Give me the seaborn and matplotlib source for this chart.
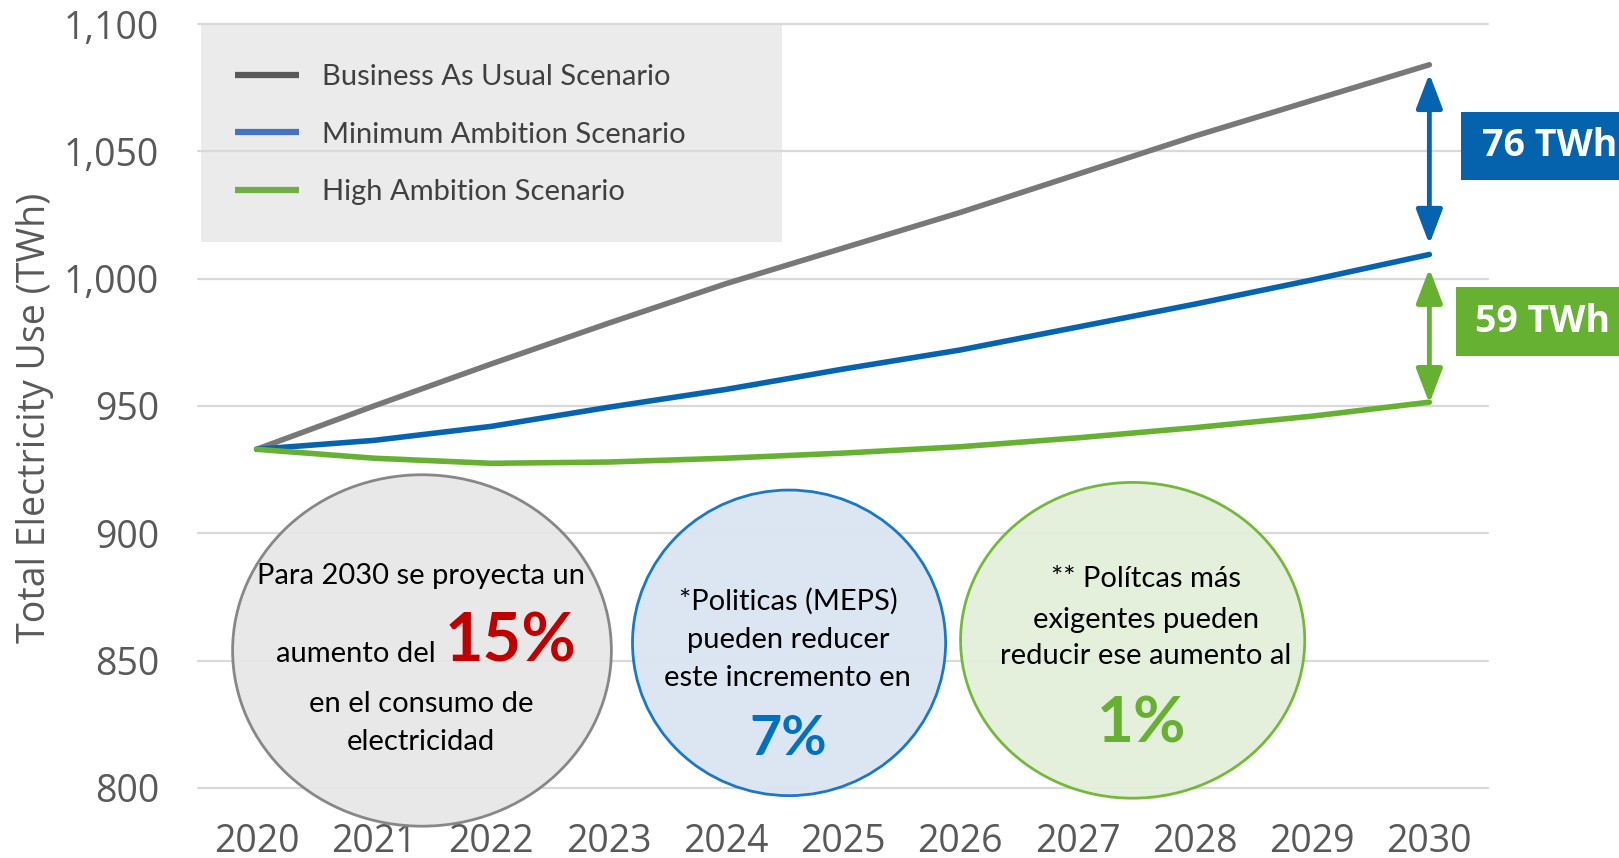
import pandas as pd
import seaborn as sns
import matplotlib.pyplot as plt
from matplotlib.patches import Ellipse, Rectangle
from matplotlib.lines import Line2D

# values
years = [2020, 2021, 2022, 2023, 2024, 2025, 2026, 2027, 2028, 2029, 2030]
bau = [933, 950, 966.5, 982.5, 998, 1012, 1026, 1041, 1056, 1070, 1084]
min_amb = [933, 936.5, 942, 949.5, 956.5, 964.5, 972, 981, 990, 999.5, 1009.5]
high_amb = [933, 929.5, 927.5, 928, 929.5, 931.5, 934, 937.5, 941.5, 946, 951.5]

scenarios = ['Business As Usual Scenario', 'Minimum Ambition Scenario', 'High Ambition Scenario']
line_colors = ['#787878', '#0563b0', '#66b032']
legend_colors = ['#595959', '#4472c4', '#70ad47']
yticks = [800, 850, 900, 950, 1000, 1050, 1100]

gap_labels = ['76 TWh', '59 TWh']

df = pd.DataFrame({
    'year': years * 3,
    'twh': bau + min_amb + high_amb,
    'scenario': [s for s in scenarios for _ in years],
})

sns.set_theme(style='white')
plt.rcParams['font.family'] = ['Open Sans', 'DejaVu Sans']

W, H = 1619, 858
fig = plt.figure(figsize=(W / 100, H / 100), dpi=100)
ax = fig.add_axes([198 / W, 1 - 788 / H, 1290 / W, 764 / H])

sns.lineplot(data=df, x='year', y='twh', hue='scenario', hue_order=scenarios,
             palette=dict(zip(scenarios, line_colors)), lw=4, legend=False,
             ax=ax, zorder=3, solid_capstyle='round')

ax.set_xlim(2019.5, 2030.5)
ax.set_ylim(800, 1100)
ax.set_xticks(years)
ax.set_yticks(yticks)
ax.set_yticklabels([f'{v:,}' for v in yticks])
ax.set_xlabel('')
ax.set_ylabel('Total Electricity Use (TWh)', fontsize=27, color='#595959')
ax.yaxis.set_label_coords(-0.112, 0.484)
ax.grid(axis='y', color='#d9d9d9', lw=1.6)
ax.grid(axis='x', visible=False)
ax.set_axisbelow(True)
for gl in ax.yaxis.get_gridlines():
    gl.set_clip_on(False)
sns.despine(ax=ax, left=True, bottom=True)
ax.tick_params(axis='both', length=0, labelsize=27, labelcolor='#595959')
ax.tick_params(axis='y', pad=28)
ax.tick_params(axis='x', pad=25)

# legend panel
ax.add_patch(Rectangle((0.002, 0.715), 0.451, 0.286, transform=ax.transAxes,
                       facecolor='#ebebeb', edgecolor='none', zorder=0.2, clip_on=False))
handles = [Line2D([], [], color=c, lw=4.5, solid_capstyle='butt') for c in legend_colors]
leg = ax.legend(handles, scenarios, loc='upper left', bbox_to_anchor=(0.029, 0.947),
                frameon=False, fontsize=21, handlelength=2.19, handletextpad=0.78,
                labelspacing=1.07, borderpad=0, borderaxespad=0, labelcolor='#404040')
for t in leg.get_texts():
    t.set_fontfamily(['Lato', 'DejaVu Sans'])

# bubbles
cal = ['Lato', 'DejaVu Sans']
ax.add_patch(Ellipse((2021.41, 854), 3.23, 138, facecolor='#e7e7e7', edgecolor='#7f7f7f',
                     lw=2, alpha=0.93, zorder=4, clip_on=False))
ax.add_patch(Ellipse((2024.54, 857), 2.67, 120, facecolor='#dae5f1', edgecolor='#0a6fc2',
                     lw=2, alpha=0.93, zorder=4, clip_on=False))
ax.add_patch(Ellipse((2027.47, 858), 2.935, 124, facecolor='#e2efd9', edgecolor='#6ab42d',
                     lw=2, alpha=0.93, zorder=4, clip_on=False))

tk = dict(ha='center', va='center', fontsize=21, color='black', family=cal, zorder=5)
ax.text(2021.40, 883.2, 'Para 2030 se proyecta un', **tk)
ax.text(2021.53, 849.5, 'aumento del', ha='right', va='baseline', fontsize=21,
        color='black', family=cal, zorder=5)
ax.text(2021.60, 849.5, '15%', ha='left', va='baseline', fontsize=48, fontweight='bold',
        color='#c00000', family=cal, zorder=5)
ax.text(2021.40, 833, 'en el consumo de', **tk)
ax.text(2021.40, 818.2, 'electricidad', **tk)

ax.text(2024.53, 873.5, '*Politicas (MEPS)', **tk)
ax.text(2024.53, 858, 'pueden reducer', **tk)
ax.text(2024.53, 843, 'este incremento en', **tk)
ax.text(2024.53, 819.2, '7%', ha='center', va='center', fontsize=40, fontweight='bold',
        color='#0070c0', family=cal, zorder=5)

ax.text(2027.58, 881.9, '** Polítcas más', **tk)
ax.text(2027.58, 866, 'exigentes pueden', **tk)
ax.text(2027.58, 851.9, 'reducir ese aumento al', **tk)
ax.text(2027.55, 825.2, '1%', ha='center', va='center', fontsize=46, fontweight='bold',
        color='#66b032', family=cal, zorder=5)

# gap arrows
for y0, y1, c in [(1013.5, 1080.5, '#0563b0'), (951, 1004, '#66b032')]:
    ax.annotate('', xy=(2030, y1), xytext=(2030, y0), annotation_clip=False,
                arrowprops=dict(arrowstyle='<|-|>,head_length=2.1,head_width=0.8',
                                mutation_scale=10, color=c, lw=3.5,
                                shrinkA=0, shrinkB=0))

# gap labels
for (x0, ytop, ybot, tx), lab, c in zip([(1461, 111.5, 180, 1482), (1456, 287, 356, 1475)],
                                        gap_labels, ['#0563ae', '#66b032']):
    fig.add_artist(Rectangle((x0 / W, 1 - ybot / H), 1 - x0 / W, (ybot - ytop) / H,
                             transform=fig.transFigure, facecolor=c, edgecolor='none'))
    fig.text(tx / W, 1 - (ytop + ybot) / 2 / H, lab, ha='left', va='center',
             fontsize=27, fontweight='bold', color='white')

fig.savefig('out.png', dpi=100)
